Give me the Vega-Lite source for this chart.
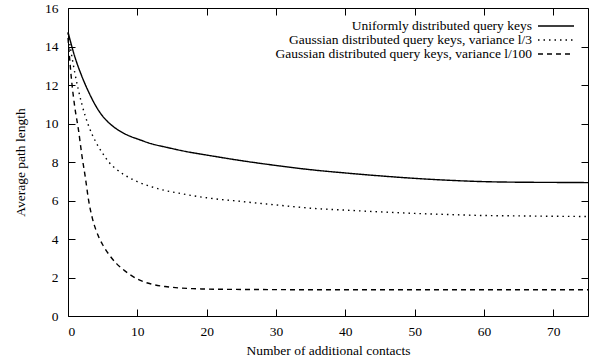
{
  "$schema": "https://vega.github.io/schema/vega-lite/v6.json",
  "autosize": {"type": "none"},
  "width": 520,
  "height": 308,
  "padding": {"left": 68, "top": 8, "right": 12, "bottom": 42},
  "background": "white",
  "config": {
    "font": "Liberation Serif",
    "view": {"stroke": "black", "strokeWidth": 1},
    "axis": {
      "grid": false,
      "domain": false,
      "tickColor": "black",
      "tickSize": -7,
      "tickWidth": 1,
      "labelFont": "Liberation Serif",
      "labelFontSize": 13.5,
      "labelColor": "black",
      "titleFont": "Liberation Serif",
      "titleFontSize": 13.5,
      "titleFontWeight": "normal",
      "titleColor": "black"
    }
  },
  "data": {"values": [
    {"x": 0, "y": 14.75, "s": "Uniformly distributed query keys"},
    {"x": 1, "y": 13.45, "s": "Uniformly distributed query keys"},
    {"x": 2, "y": 12.45, "s": "Uniformly distributed query keys"},
    {"x": 3, "y": 11.62, "s": "Uniformly distributed query keys"},
    {"x": 4, "y": 10.92, "s": "Uniformly distributed query keys"},
    {"x": 5, "y": 10.38, "s": "Uniformly distributed query keys"},
    {"x": 6, "y": 10.0, "s": "Uniformly distributed query keys"},
    {"x": 7, "y": 9.72, "s": "Uniformly distributed query keys"},
    {"x": 8, "y": 9.5, "s": "Uniformly distributed query keys"},
    {"x": 9, "y": 9.33, "s": "Uniformly distributed query keys"},
    {"x": 10, "y": 9.2, "s": "Uniformly distributed query keys"},
    {"x": 12, "y": 8.95, "s": "Uniformly distributed query keys"},
    {"x": 14, "y": 8.78, "s": "Uniformly distributed query keys"},
    {"x": 16, "y": 8.62, "s": "Uniformly distributed query keys"},
    {"x": 18, "y": 8.48, "s": "Uniformly distributed query keys"},
    {"x": 20, "y": 8.36, "s": "Uniformly distributed query keys"},
    {"x": 25, "y": 8.07, "s": "Uniformly distributed query keys"},
    {"x": 30, "y": 7.82, "s": "Uniformly distributed query keys"},
    {"x": 35, "y": 7.6, "s": "Uniformly distributed query keys"},
    {"x": 40, "y": 7.43, "s": "Uniformly distributed query keys"},
    {"x": 45, "y": 7.28, "s": "Uniformly distributed query keys"},
    {"x": 50, "y": 7.15, "s": "Uniformly distributed query keys"},
    {"x": 55, "y": 7.05, "s": "Uniformly distributed query keys"},
    {"x": 60, "y": 6.98, "s": "Uniformly distributed query keys"},
    {"x": 65, "y": 6.95, "s": "Uniformly distributed query keys"},
    {"x": 70, "y": 6.94, "s": "Uniformly distributed query keys"},
    {"x": 75, "y": 6.93, "s": "Uniformly distributed query keys"},

    {"x": 0, "y": 14.7, "s": "Gaussian distributed query keys, variance l/3"},
    {"x": 1, "y": 12.6, "s": "Gaussian distributed query keys, variance l/3"},
    {"x": 2, "y": 11.0, "s": "Gaussian distributed query keys, variance l/3"},
    {"x": 3, "y": 9.85, "s": "Gaussian distributed query keys, variance l/3"},
    {"x": 4, "y": 9.05, "s": "Gaussian distributed query keys, variance l/3"},
    {"x": 5, "y": 8.45, "s": "Gaussian distributed query keys, variance l/3"},
    {"x": 6, "y": 7.95, "s": "Gaussian distributed query keys, variance l/3"},
    {"x": 7, "y": 7.62, "s": "Gaussian distributed query keys, variance l/3"},
    {"x": 8, "y": 7.36, "s": "Gaussian distributed query keys, variance l/3"},
    {"x": 9, "y": 7.15, "s": "Gaussian distributed query keys, variance l/3"},
    {"x": 10, "y": 6.98, "s": "Gaussian distributed query keys, variance l/3"},
    {"x": 12, "y": 6.72, "s": "Gaussian distributed query keys, variance l/3"},
    {"x": 14, "y": 6.52, "s": "Gaussian distributed query keys, variance l/3"},
    {"x": 16, "y": 6.38, "s": "Gaussian distributed query keys, variance l/3"},
    {"x": 18, "y": 6.25, "s": "Gaussian distributed query keys, variance l/3"},
    {"x": 20, "y": 6.14, "s": "Gaussian distributed query keys, variance l/3"},
    {"x": 25, "y": 5.95, "s": "Gaussian distributed query keys, variance l/3"},
    {"x": 30, "y": 5.77, "s": "Gaussian distributed query keys, variance l/3"},
    {"x": 35, "y": 5.6, "s": "Gaussian distributed query keys, variance l/3"},
    {"x": 40, "y": 5.5, "s": "Gaussian distributed query keys, variance l/3"},
    {"x": 45, "y": 5.41, "s": "Gaussian distributed query keys, variance l/3"},
    {"x": 50, "y": 5.33, "s": "Gaussian distributed query keys, variance l/3"},
    {"x": 55, "y": 5.27, "s": "Gaussian distributed query keys, variance l/3"},
    {"x": 60, "y": 5.22, "s": "Gaussian distributed query keys, variance l/3"},
    {"x": 65, "y": 5.2, "s": "Gaussian distributed query keys, variance l/3"},
    {"x": 70, "y": 5.18, "s": "Gaussian distributed query keys, variance l/3"},
    {"x": 75, "y": 5.17, "s": "Gaussian distributed query keys, variance l/3"},

    {"x": 0, "y": 14.45, "s": "Gaussian distributed query keys, variance l/100"},
    {"x": 0.5, "y": 12.3, "s": "Gaussian distributed query keys, variance l/100"},
    {"x": 1, "y": 10.8, "s": "Gaussian distributed query keys, variance l/100"},
    {"x": 1.5, "y": 9.7, "s": "Gaussian distributed query keys, variance l/100"},
    {"x": 2, "y": 8.35, "s": "Gaussian distributed query keys, variance l/100"},
    {"x": 2.5, "y": 7.2, "s": "Gaussian distributed query keys, variance l/100"},
    {"x": 3, "y": 5.95, "s": "Gaussian distributed query keys, variance l/100"},
    {"x": 3.5, "y": 5.1, "s": "Gaussian distributed query keys, variance l/100"},
    {"x": 4, "y": 4.5, "s": "Gaussian distributed query keys, variance l/100"},
    {"x": 4.5, "y": 4.05, "s": "Gaussian distributed query keys, variance l/100"},
    {"x": 5, "y": 3.7, "s": "Gaussian distributed query keys, variance l/100"},
    {"x": 6, "y": 3.15, "s": "Gaussian distributed query keys, variance l/100"},
    {"x": 7, "y": 2.72, "s": "Gaussian distributed query keys, variance l/100"},
    {"x": 8, "y": 2.4, "s": "Gaussian distributed query keys, variance l/100"},
    {"x": 9, "y": 2.14, "s": "Gaussian distributed query keys, variance l/100"},
    {"x": 10, "y": 1.92, "s": "Gaussian distributed query keys, variance l/100"},
    {"x": 12, "y": 1.66, "s": "Gaussian distributed query keys, variance l/100"},
    {"x": 14, "y": 1.53, "s": "Gaussian distributed query keys, variance l/100"},
    {"x": 16, "y": 1.46, "s": "Gaussian distributed query keys, variance l/100"},
    {"x": 18, "y": 1.42, "s": "Gaussian distributed query keys, variance l/100"},
    {"x": 20, "y": 1.4, "s": "Gaussian distributed query keys, variance l/100"},
    {"x": 25, "y": 1.38, "s": "Gaussian distributed query keys, variance l/100"},
    {"x": 30, "y": 1.37, "s": "Gaussian distributed query keys, variance l/100"},
    {"x": 40, "y": 1.36, "s": "Gaussian distributed query keys, variance l/100"},
    {"x": 50, "y": 1.36, "s": "Gaussian distributed query keys, variance l/100"},
    {"x": 60, "y": 1.36, "s": "Gaussian distributed query keys, variance l/100"},
    {"x": 75, "y": 1.36, "s": "Gaussian distributed query keys, variance l/100"}
  ]},
  "layer": [
    {
      "mark": {"type": "line", "color": "black", "strokeWidth": 1.4, "interpolate": "monotone", "strokeCap": "butt"},
      "encoding": {
        "x": {"field": "x", "type": "quantitative",
              "scale": {"domain": [0, 75], "nice": false, "zero": false},
              "axis": {"orient": "bottom", "values": [0,10,20,30,40,50,60,70], "title": "Number of additional contacts", "labelPadding": 15, "titlePadding": 6}},
        "y": {"field": "y", "type": "quantitative",
              "scale": {"domain": [0, 16], "nice": false},
              "axis": {"orient": "left", "values": [0,2,4,6,8,10,12,14,16], "title": "Average path length", "labelPadding": 17, "titlePadding": 17}},
        "strokeDash": {"field": "s", "type": "nominal",
          "scale": {"domain": ["Uniformly distributed query keys", "Gaussian distributed query keys, variance l/3", "Gaussian distributed query keys, variance l/100"],
                    "range": [[1, 0], [1.5, 4], [5, 4]]},
          "legend": {"title": null, "orient": "none", "legendX": 481, "legendY": 11, "padding": 0,
                     "symbolType": "M-3,0H3", "symbolSize": 144, "symbolStrokeWidth": 1.4, "symbolStrokeColor": "black", "symbolFillColor": "transparent",
                     "labelAlign": "right", "labelOffset": -31, "labelFontSize": 13.5, "labelFont": "Liberation Serif", "labelColor": "black",
                     "rowPadding": -10, "labelLimit": 400}},
        "detail": {"field": "s"}
      }
    },
    {
      "mark": {"type": "line", "opacity": 0},
      "encoding": {
        "x": {"field": "x", "type": "quantitative",
              "axis": {"orient": "top", "values": [0,10,20,30,40,50,60,70], "labels": false, "title": null}},
        "y": {"field": "y", "type": "quantitative",
              "axis": {"orient": "right", "values": [0,2,4,6,8,10,12,14,16], "labels": false, "title": null}},
        "detail": {"field": "s"}
      }
    }
  ],
  "resolve": {"axis": {"x": "independent", "y": "independent"}}
}
